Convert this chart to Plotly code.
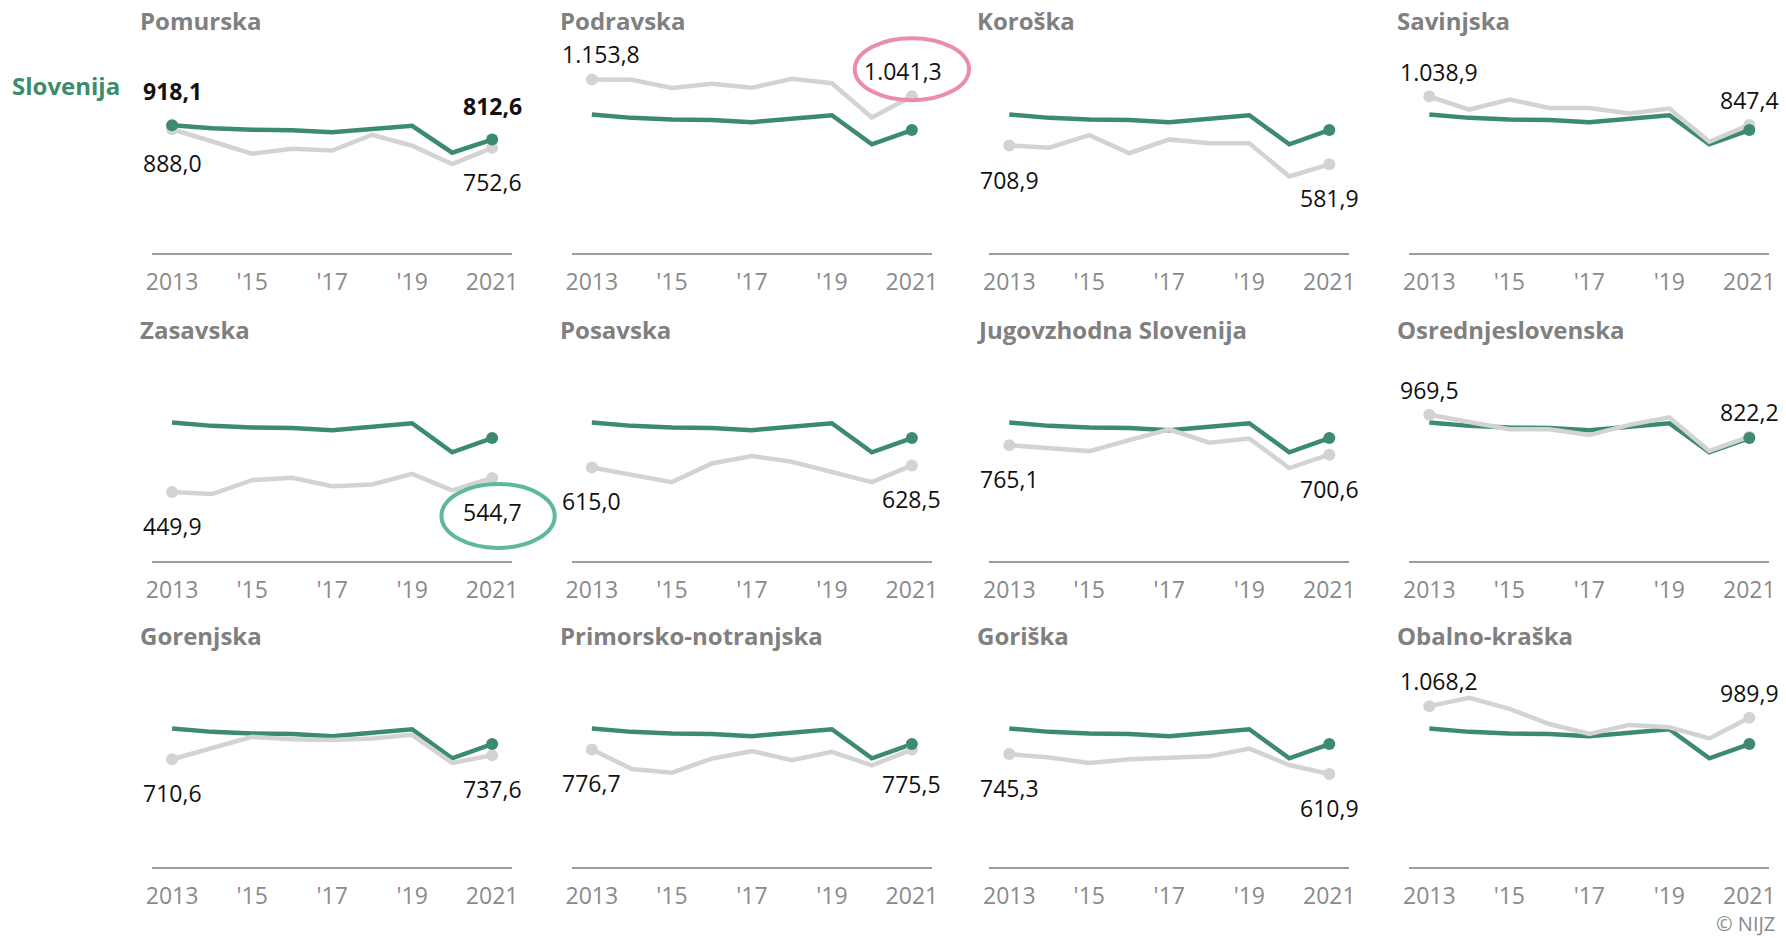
import plotly.graph_objects as go

# ---------------- data ----------------
years = [2013, 2014, 2015, 2016, 2017, 2018, 2019, 2020, 2021]
tick_vals = [2013, 2015, 2017, 2019, 2021]
tick_text = ["2013", "'15", "'17", "'19", "2021"]

slovenija = [918.1, 895, 884, 880, 866, 893, 913, 717, 812.6]

regions = ["Pomurska", "Podravska", "Koroška", "Savinjska",
           "Zasavska", "Posavska", "Jugovzhodna Slovenija", "Osrednjeslovenska",
           "Gorenjska", "Primorsko-notranjska", "Goriška", "Obalno-kraška"]

pomurska = [888.0, 803, 710, 745, 733, 848, 768, 634, 752.6]
podravska = [1153.8, 1152, 1096, 1125, 1098, 1158, 1128, 898, 1041.3]
koroska = [708.9, 694, 779, 657, 750, 724, 724, 500, 581.9]
savinjska = [1038.9, 951, 1018, 962, 962, 924, 958, 734, 847.4]
zasavska = [449.9, 436, 529, 545, 488, 500, 572, 461, 544.7]
posavska = [615.0, 562, 516, 642, 692, 653, 584, 516, 628.5]
jugovzhodna = [765.1, 748, 725, 799, 871, 782, 810, 611, 700.6]
osrednjeslovenska = [969.5, 924, 872, 872, 833, 902, 952, 726, 822.2]
gorenjska = [710.6, 785, 862, 845, 840, 850, 875, 686, 737.6]
primorsko_notranjska = [776.7, 645, 620, 715, 765, 705, 760, 670, 775.5]
goriska = [745.3, 722, 686, 710, 720, 730, 782, 672, 610.9]
obalno_kraska = [1068.2, 1125, 1050, 948, 881, 942, 926, 851, 989.9]

region_values = [pomurska, podravska, koroska, savinjska,
                 zasavska, posavska, jugovzhodna, osrednjeslovenska,
                 gorenjska, primorsko_notranjska, goriska, obalno_kraska]

# ---------------- style / layout ----------------
W, H = 1786, 938
FONT = "Open Sans"
GREEN = "#3d8b6d"
GREY_LINE = "#d3d3d5"
TITLE_GREY = "#808080"
TICK_GREY = "#8a8a8a"
AXIS_GREY = "#9c9c9c"
PINK = "#ec8ca8"
LIGHT_GREEN = "#5fb896"

# horizontal calibration of the screenshot (target px -> layout px)
CAL_OFF, CAL_K = 8.5, 0.9932


def D(px):
    return (px - CAL_OFF) / CAL_K


col_x0 = [D(154.6), D(574.3), D(991.7), D(1411.7)]
row_base = [253, 561, 867]
PW, PH = 360 / CAL_K, 188
YMIN = -15
YMAX = 1251
YMAX_FIRST = 1357
XR = [2012.5, 2021.5]
ABOVE_SHIFT, BELOW_SHIFT = 25, -34


def fmt(v):
    s = f"{v:,.1f}"
    return s.replace(",", "X").replace(".", ",").replace("X", ".")


def est_width(txt, size=23):
    w = 0
    for ch in txt:
        w += 0.572 if ch.isdigit() else 0.26
    return w * size


fig = go.Figure()
layout = dict(
    width=W, height=H,
    margin=dict(l=0, r=0, t=0, b=0),
    paper_bgcolor="white", plot_bgcolor="white",
    showlegend=False,
    font=dict(family=FONT),
)
annotations = []
shapes = []

for i, (name, vals) in enumerate(zip(regions, region_values)):
    r, c = divmod(i, 4)
    n = "" if i == 0 else str(i + 1)
    x0 = col_x0[c]
    base = row_base[r]
    ymax = YMAX_FIRST if i == 0 else YMAX
    xd = [x0 / W, (x0 + PW) / W]
    yd = [1 - base / H, 1 - (base - PH) / H]
    layout["xaxis" + n] = dict(
        domain=xd, range=XR, anchor="y" + n,
        tickvals=tick_vals, ticktext=tick_text,
        showline=True, linecolor=AXIS_GREY, linewidth=2,
        showgrid=False, zeroline=False, ticks="",
        ticklabelstandoff=7,
        tickfont=dict(size=23, color=TICK_GREY, family=FONT),
        fixedrange=True,
    )
    layout["yaxis" + n] = dict(
        domain=yd, range=[YMIN, ymax], anchor="x" + n,
        visible=False, showgrid=False, zeroline=False, fixedrange=True,
    )
    xa, ya = "x" + n, "y" + n

    # Slovenija line (beneath)
    fig.add_trace(go.Scatter(
        x=years, y=slovenija, xaxis=xa, yaxis=ya, mode="lines",
        line=dict(color=GREEN, width=4.5), hoverinfo="skip"))
    # region line
    fig.add_trace(go.Scatter(
        x=years, y=vals, xaxis=xa, yaxis=ya, mode="lines",
        line=dict(color=GREY_LINE, width=4.5), hoverinfo="skip"))
    fig.add_trace(go.Scatter(
        x=[years[0], years[-1]], y=[vals[0], vals[-1]], xaxis=xa, yaxis=ya,
        mode="markers", marker=dict(color=GREY_LINE, size=12), hoverinfo="skip"))
    # Slovenija end markers
    if i == 0:
        mx, my = [years[0], years[-1]], [slovenija[0], slovenija[-1]]
    else:
        mx, my = [years[-1]], [slovenija[-1]]
    fig.add_trace(go.Scatter(
        x=mx, y=my, xaxis=xa, yaxis=ya, mode="markers",
        marker=dict(color=GREEN, size=12), hoverinfo="skip"))

    # panel title
    annotations.append(dict(
        xref="paper", yref="paper", x=(x0 - 13) / W, y=1 - (base - 232) / H,
        xanchor="left", yanchor="middle", showarrow=False, borderpad=0,
        text=f"<b>{name}</b>", font=dict(size=24, color=TITLE_GREY, family=FONT)))

    # value labels at first and last year
    scale = PH / (ymax - YMIN)
    for k in (0, -1):
        v = vals[k]
        above = v > slovenija[k]
        txt = fmt(v)
        w = est_width(txt)
        px = x0 + (years[k] - XR[0]) * PW / (XR[1] - XR[0])
        xs = 0
        if px - w / 2 < x0 - 9.5:
            xs = (x0 - 9.5) - (px - w / 2)
        if px + w / 2 > x0 + 372:
            xs = (x0 + 372) - (px + w / 2)
        ys = ABOVE_SHIFT if above else BELOW_SHIFT
        annotations.append(dict(
            xref=xa, yref=ya, x=years[k], y=v, xshift=xs, yshift=ys,
            xanchor="center", yanchor="middle", showarrow=False, borderpad=0,
            text=txt, font=dict(size=23, color="#111111", family=FONT)))
        if i == 0:
            annotations.append(dict(
                xref=xa, yref=ya, x=years[k], y=slovenija[k], yshift=34,
                xanchor="center", yanchor="middle", showarrow=False, borderpad=0,
                text=f"<b>{fmt(slovenija[k])}</b>",
                font=dict(size=23, color="#111111", family=FONT)))

    # highlight ellipses (around last-year labels)
    def label_center(val, above, dx, dy):
        py = base - (val - YMIN) * scale - (ABOVE_SHIFT if above else BELOW_SHIFT)
        px = x0 + (years[-1] - XR[0]) * PW / (XR[1] - XR[0])
        return px + dx, py + dy

    if name == "Podravska":
        cx, cy = label_center(vals[-1], True, 0, -2)
        hw, hh, col = 57.5, 31, PINK
    elif name == "Zasavska":
        cx, cy = label_center(vals[-1], False, 6, 4)
        hw, hh, col = 57, 32, LIGHT_GREEN
    else:
        continue
    shapes.append(dict(
        type="circle", xref="paper", yref="paper",
        x0=(cx - hw) / W, x1=(cx + hw) / W,
        y0=1 - (cy + hh) / H, y1=1 - (cy - hh) / H,
        line=dict(color=col, width=4), layer="above"))

annotations.append(dict(
    xref="paper", yref="paper", x=D(12) / W, y=1 - 85 / H,
    xanchor="left", yanchor="middle", showarrow=False,
    text="<b>Slovenija</b>", font=dict(size=24, color=GREEN, family=FONT)))
annotations.append(dict(
    xref="paper", yref="paper", x=D(1778) / W, y=0,
    xanchor="right", yanchor="bottom", showarrow=False, borderpad=0,
    text="© NIJZ", font=dict(size=20, color=TICK_GREY, family=FONT)))

layout["annotations"] = annotations
layout["shapes"] = shapes
fig.update_layout(**layout)
fig.write_html(
    "out.html",
    config={"displayModeBar": False},
    post_script="document.body.style.margin='0px';"
                "document.documentElement.style.overflow='hidden';",
)
